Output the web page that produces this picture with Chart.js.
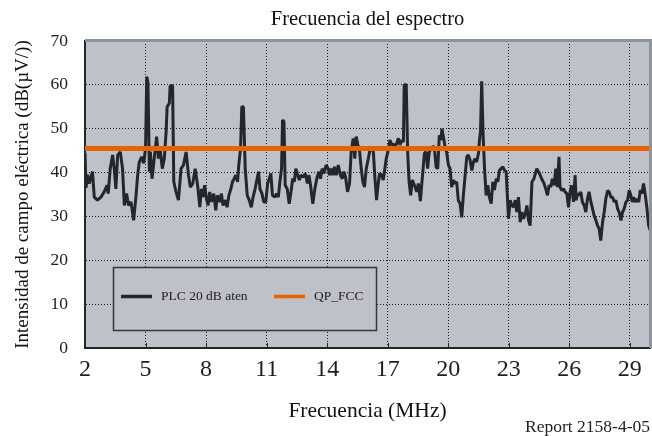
<!DOCTYPE html>
<html lang="es">
<head>
<meta charset="utf-8">
<title>Frecuencia del espectro</title>
<script src="https://cdn.jsdelivr.net/npm/chart.js@4.4.1/dist/chart.umd.min.js"></script>
<style>
  html, body { margin: 0; padding: 0; background: #ffffff; }
  #wrap { width: 652px; height: 436px; }
</style>
</head>
<body>
<div id="wrap"><canvas id="chart" width="652" height="436"></canvas></div>
<script>
// Measured spectrum, PLC with 20 dB attenuation (frequency in MHz, level in dB(µV/m))
const freqMHz = [
  2.00, 2.05, 2.13, 2.21, 2.37, 2.46, 2.62, 2.79, 2.95, 3.09, 3.15, 3.25, 3.37, 3.45, 3.53, 3.62,
  3.75, 3.86, 3.95, 4.06, 4.16, 4.28, 4.41, 4.53, 4.61, 4.69, 4.81, 4.91, 5.00, 5.06, 5.12, 5.19,
  5.24, 5.32, 5.44, 5.55, 5.64, 5.73, 5.83, 5.93, 6.02, 6.07, 6.18, 6.22, 6.34, 6.40, 6.51, 6.63,
  6.76, 6.88, 7.01, 7.13, 7.22, 7.34, 7.46, 7.59, 7.69, 7.77, 7.85, 7.93, 8.02, 8.10, 8.18, 8.26,
  8.38, 8.48, 8.56, 8.68, 8.76, 8.84, 8.96, 9.04, 9.13, 9.23, 9.31, 9.39, 9.47, 9.56, 9.62, 9.71,
  9.77, 9.85, 9.94, 10.04, 10.14, 10.24, 10.33, 10.43, 10.53, 10.60, 10.67, 10.77, 10.86, 10.96, 11.05, 11.13,
  11.21, 11.29, 11.41, 11.49, 11.58, 11.66, 11.74, 11.79, 11.86, 11.92, 12.02, 12.12, 12.21, 12.29, 12.37, 12.45,
  12.54, 12.62, 12.70, 12.82, 12.92, 13.02, 13.10, 13.18, 13.29, 13.39, 13.50, 13.59, 13.67, 13.75, 13.84, 13.95,
  14.05, 14.12, 14.20, 14.28, 14.36, 14.45, 14.55, 14.66, 14.75, 14.83, 14.91, 15.01, 15.11, 15.19, 15.29, 15.37,
  15.44, 15.52, 15.61, 15.69, 15.77, 15.85, 15.94, 16.04, 16.12, 16.20, 16.29, 16.37, 16.45, 16.52, 16.60, 16.70,
  16.78, 16.86, 16.93, 17.01, 17.11, 17.20, 17.28, 17.36, 17.44, 17.53, 17.61, 17.69, 17.78, 17.82, 17.92, 17.99,
  18.06, 18.14, 18.22, 18.36, 18.44, 18.52, 18.62, 18.72, 18.82, 18.90, 18.98, 19.06, 19.15, 19.23, 19.31, 19.40,
  19.48, 19.56, 19.64, 19.69, 19.78, 19.84, 19.92, 20.01, 20.09, 20.17, 20.26, 20.34, 20.42, 20.50, 20.59, 20.67,
  20.75, 20.84, 20.92, 21.00, 21.08, 21.17, 21.25, 21.33, 21.41, 21.50, 21.55, 21.60, 21.66, 21.73, 21.80, 21.88,
  21.96, 22.04, 22.13, 22.21, 22.29, 22.38, 22.46, 22.54, 22.62, 22.71, 22.79, 22.87, 22.92, 22.99, 23.07, 23.15,
  23.24, 23.32, 23.40, 23.48, 23.57, 23.65, 23.73, 23.82, 23.90, 23.98, 24.06, 24.15, 24.25, 24.39, 24.52, 24.63,
  24.75, 24.85, 24.92, 25.00, 25.08, 25.16, 25.25, 25.33, 25.41, 25.49, 25.54, 25.63, 25.71, 25.79, 25.88, 25.96,
  26.04, 26.12, 26.21, 26.29, 26.34, 26.42, 26.50, 26.57, 26.65, 26.74, 26.82, 26.90, 26.98, 27.07, 27.15, 27.23,
  27.32, 27.40, 27.48, 27.56, 27.65, 27.73, 27.81, 27.90, 27.98, 28.06, 28.14, 28.23, 28.31, 28.39, 28.47, 28.56,
  28.64, 28.72, 28.81, 28.89, 28.97, 29.05, 29.12, 29.19, 29.27, 29.35, 29.44, 29.52, 29.60, 29.68, 29.77, 29.85,
  29.93, 30.00
];
const plcLevel = [
  44.5, 36.5, 39.5, 37.5, 40.2, 34.4, 33.7, 34.4, 35.6, 37.1, 35.2, 40.9, 44.0, 40.9, 36.3, 44.0,
  44.7, 40.9, 32.5, 35.2, 32.5, 33.3, 29.1, 34.8, 39.4, 42.4, 43.6, 42.1, 45.5, 61.9, 60.5, 40.2,
  44.7, 38.6, 43.6, 48.2, 43.2, 45.1, 40.9, 43.2, 49.3, 55.0, 55.8, 59.8, 59.8, 37.9, 35.6, 33.7,
  40.9, 41.7, 44.7, 39.4, 36.7, 37.5, 40.9, 36.7, 32.1, 36.3, 34.4, 37.1, 34.0, 32.5, 35.6, 33.3,
  35.2, 31.4, 34.8, 33.3, 35.2, 32.5, 33.7, 32.1, 34.8, 36.3, 37.9, 38.6, 39.4, 37.9, 41.7, 45.5,
  55.0, 55.0, 40.9, 34.8, 33.7, 32.1, 34.4, 36.3, 38.6, 40.2, 36.3, 35.2, 33.3, 33.3, 37.5, 38.6,
  39.8, 34.8, 34.4, 35.2, 34.4, 37.9, 40.9, 52.0, 51.6, 37.1, 36.3, 32.9, 35.6, 38.6, 37.9, 40.9,
  39.4, 38.3, 39.4, 39.0, 39.8, 37.5, 39.4, 37.0, 32.9, 36.3, 38.9, 40.2, 38.6, 40.9, 39.8, 41.7,
  40.9, 39.4, 40.9, 39.4, 41.3, 39.4, 41.7, 39.4, 38.6, 40.2, 39.0, 35.6, 37.5, 44.7, 47.8, 43.2,
  48.2, 46.3, 44.7, 40.9, 37.9, 36.7, 40.9, 43.2, 45.1, 45.9, 44.7, 38.6, 33.7, 37.1, 39.8, 39.4,
  38.3, 40.9, 43.2, 44.7, 47.4, 46.3, 46.6, 45.5, 46.6, 47.8, 46.3, 47.4, 47.0, 60.0, 60.0, 44.7,
  37.9, 34.8, 38.3, 36.7, 35.6, 37.5, 33.5, 39.0, 44.4, 44.7, 40.9, 44.7, 45.5, 45.9, 45.9, 41.3,
  40.9, 48.5, 47.4, 50.0, 47.7, 45.9, 44.7, 41.7, 40.9, 36.7, 38.3, 37.5, 37.9, 33.7, 32.9, 29.8,
  34.8, 39.4, 43.6, 44.0, 42.9, 40.5, 42.4, 43.2, 42.4, 44.4, 47.4, 49.3, 60.8, 48.5, 40.9, 34.8,
  37.1, 34.4, 32.9, 37.9, 36.0, 38.6, 37.9, 40.5, 40.9, 41.3, 40.5, 40.2, 35.6, 29.5, 33.7, 32.5,
  32.1, 33.7, 31.0, 34.4, 28.7, 31.0, 29.5, 30.6, 32.5, 29.1, 27.9, 37.9, 38.6, 40.9, 39.8, 38.6,
  37.5, 36.0, 34.8, 37.1, 36.7, 38.6, 37.1, 40.9, 36.7, 43.6, 36.7, 35.9, 36.3, 35.6, 35.2, 32.1,
  35.6, 37.1, 33.3, 39.4, 33.7, 35.2, 34.8, 35.6, 33.3, 32.5, 31.0, 34.0, 35.6, 33.3, 31.8, 30.2,
  29.1, 27.9, 27.2, 24.5, 28.7, 31.0, 34.0, 35.9, 35.6, 34.4, 34.4, 33.3, 33.7, 31.8, 31.0, 29.1,
  31.0, 31.8, 33.3, 33.7, 36.0, 34.8, 33.3, 34.4, 33.3, 34.0, 33.3, 36.0, 35.2, 37.5, 34.8, 31.8,
  28.0, 26.9
];
// FCC quasi-peak limit
const fccFreq = [2, 30];
const fccLevel = [45.5, 45.5];

const seriesNames = ['PLC 20 dB aten', 'QP_FCC'];
const xTickValues = [2, 5, 8, 11, 14, 17, 20, 23, 26, 29];
const yTickValues = [0, 10, 20, 30, 40, 50, 60, 70];

const SERIF = '"Liberation Serif", "Times New Roman", serif';
const PLOT_BG = '#bfc1c8';
const DARK = '#23272b';
const ORANGE = '#ea6100';

// Plot background, top/right frame, inner tick marks, legend box and report note
const decor = {
  id: 'decor',
  beforeDraw(chart) {
    const { ctx, chartArea: a } = chart;
    ctx.save();
    ctx.fillStyle = PLOT_BG;
    ctx.fillRect(a.left, a.top, a.right - a.left, a.bottom - a.top);
    ctx.restore();
  },
  afterDatasetsDraw(chart) {
    const { ctx, chartArea: a, scales } = chart;
    ctx.save();
    // top and right frame
    ctx.strokeStyle = '#8b939c';
    ctx.lineWidth = 3;
    ctx.beginPath();
    ctx.moveTo(a.left, a.top - 0.5);
    ctx.lineTo(a.right + 0.5, a.top - 0.5);
    ctx.lineTo(a.right + 0.5, a.bottom);
    ctx.stroke();
    // short inner ticks on the frequency axis
    ctx.strokeStyle = DARK;
    ctx.lineWidth = 1;
    scales.x.ticks.forEach(t => {
      const px = Math.round(scales.x.getPixelForValue(t.value)) + 0.5;
      ctx.beginPath();
      ctx.moveTo(px, a.bottom);
      ctx.lineTo(px, a.bottom - 5);
      ctx.stroke();
    });
    // legend
    const lx = a.left + 28, ly = a.top + 226, lw = 263, lh = 63;
    ctx.fillStyle = PLOT_BG;
    ctx.fillRect(lx, ly, lw, lh);
    ctx.strokeStyle = '#33373b';
    ctx.lineWidth = 1.5;
    ctx.strokeRect(lx + 0.5, ly + 0.5, lw, lh);
    const ds = chart.data.datasets;
    const items = [
      { ds: ds[0], x: lx + 8 },
      { ds: ds[1], x: lx + 161 }
    ];
    const cy = ly + 29.5;
    ctx.font = '13.5px ' + SERIF;
    ctx.textBaseline = 'middle';
    ctx.textAlign = 'left';
    items.forEach(it => {
      ctx.strokeStyle = it.ds.borderColor;
      ctx.lineWidth = 3.5;
      ctx.beginPath();
      ctx.moveTo(it.x, cy);
      ctx.lineTo(it.x + 31, cy);
      ctx.stroke();
      ctx.fillStyle = '#222';
      ctx.fillText(it.ds.label, it.x + 40, cy);
    });
    ctx.restore();
  },
  afterDraw(chart) {
    const { ctx } = chart;
    ctx.save();
    ctx.font = '17.5px ' + SERIF;
    ctx.fillStyle = '#222';
    ctx.textAlign = 'right';
    ctx.textBaseline = 'middle';
    ctx.fillText('Report 2158-4-05', 650, 427);
    ctx.restore();
  }
};

const hideEdge = (edgeValues) => (c) =>
  (c.tick && edgeValues.includes(c.tick.value)) ? 'rgba(0,0,0,0)' : '#1b1b1b';

new Chart(document.getElementById('chart'), {
  type: 'line',
  data: {
    datasets: [
      {
        label: seriesNames[0],
        data: freqMHz.map((f, i) => ({ x: f, y: plcLevel[i] })),
        borderColor: DARK,
        borderWidth: 3,
        borderJoinStyle: 'bevel',
        pointRadius: 0,
        tension: 0,
        order: 1
      },
      {
        label: seriesNames[1],
        data: fccFreq.map((f, i) => ({ x: f, y: fccLevel[i] })),
        borderColor: ORANGE,
        borderWidth: 5,
        pointRadius: 0,
        tension: 0,
        order: 0
      }
    ]
  },
  options: {
    responsive: false,
    animation: false,
    layout: { padding: { left: 0, right: 2, top: 0, bottom: 0 } },
    plugins: {
      legend: { display: false },
      tooltip: { enabled: false },
      title: {
        display: true,
        fullSize: false,
        text: 'Frecuencia del espectro',
        color: '#111',
        font: { family: SERIF, size: 20.5, weight: 'normal', lineHeight: 1.2 },
        padding: { top: 7.7, bottom: 8.7 }
      }
    },
    scales: {
      x: {
        type: 'linear',
        min: 2,
        max: 30,
        afterBuildTicks: (s) => { s.ticks = xTickValues.map(v => ({ value: v })); },
        afterFit: (s) => { s.height = 88; },
        ticks: {
          autoSkip: false,
          maxRotation: 0,
          padding: 7,
          color: '#1e1e1e',
          font: { family: SERIF, size: 24 },
          callback: (v) => String(v)
        },
        grid: { color: hideEdge([2]), lineWidth: 1, drawTicks: false },
        border: { display: true, color: DARK, width: 2, dash: [1, 2] },
        title: {
          display: true,
          text: 'Frecuencia (MHz)',
          color: '#111',
          font: { family: SERIF, size: 21.5, lineHeight: 1.2 },
          padding: { top: 0, bottom: 12 }
        }
      },
      y: {
        min: 0,
        max: 70,
        afterBuildTicks: (s) => { s.ticks = yTickValues.map(v => ({ value: v })); },
        afterFit: (s) => { s.width = 85; },
        ticks: {
          padding: 17,
          color: '#1e1e1e',
          font: { family: SERIF, size: 17.5 }
        },
        grid: { color: hideEdge([0, 70]), lineWidth: 1, drawTicks: false },
        border: { display: true, color: DARK, width: 2, dash: [1, 2] },
        title: {
          display: true,
          text: 'Intensidad de campo eléctrica (dB(µV/))',
          color: '#111',
          font: { family: SERIF, size: 19, lineHeight: 1.2 },
          padding: { top: 11.6, bottom: 0 }
        }
      }
    }
  },
  plugins: [decor]
});
</script>
</body>
</html>
